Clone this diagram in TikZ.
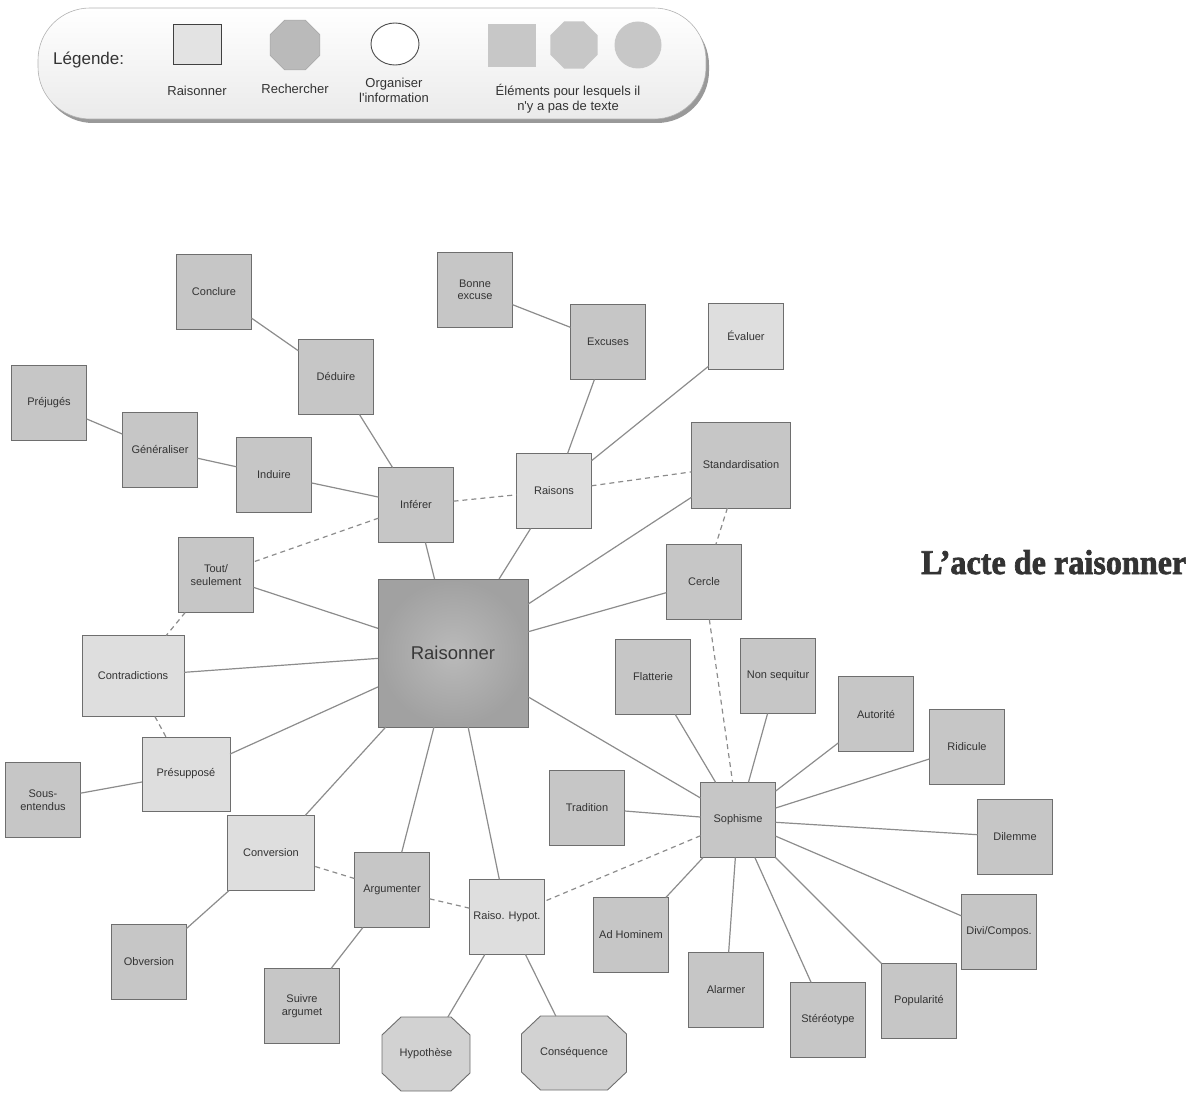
\documentclass[tikz,border=0pt]{standalone}
\usepackage{fontspec}
\newfontfamily\sansf{Liberation Sans}
\newfontfamily\titlef{Liberation Serif}[BoldFeatures={FakeBold=2}]
\usetikzlibrary{shapes.geometric}
\definecolor{txt}{HTML}{333333}
\definecolor{bordc}{HTML}{6E6E6E}
\definecolor{texfill}{HTML}{C6C6C6}
\definecolor{litefill}{HTML}{DEDEDE}
\definecolor{octfill}{HTML}{D2D2D2}
\definecolor{edgec}{HTML}{8C8C8C}
\pgfdeclarelayer{back}
\pgfsetlayers{back,main}
\tikzset{
  base/.style={draw=bordc, line width=0.9pt, text=txt, font=\sansf\fontsize{11}{12.5}\selectfont, align=center, inner sep=1pt, outer sep=0pt},
  texbox/.style={base, rectangle, fill=texfill, minimum width=75pt, minimum height=75pt},
  litebox/.style={base, rectangle, fill=litefill, minimum width=75pt, minimum height=75pt},
  octbox/.style={base, rectangle, draw=none, minimum height=74pt},
  octline/.style={draw=bordc, line width=0.9pt, fill=octfill},
  conn/.style={draw=edgec, line width=1.2pt},
  dconn/.style={conn, dash pattern=on 5pt off 4pt},
  legtxt/.style={text=txt, font=\sansf\fontsize{13}{15}\selectfont, align=center, inner sep=0pt},
}
\begin{document}
\begin{tikzpicture}[x=1pt,y=-1pt]
\useasboundingbox (0,0) rectangle (1197,1094);

% ---------- legend ----------
\fill[black!40, rounded corners=52pt] (41,13) rectangle (709,123);
\shade[top color=white, bottom color=black!8, draw=black!30, line width=0.6pt, rounded corners=52pt] (38,8) rectangle (706,119);
\node[legtxt, font=\sansf\fontsize{17}{19}\selectfont, anchor=west] (legtitle) at (53,60) {Légende:};
\node[draw=black!75, line width=0.9pt, fill=black!11, minimum width=48pt, minimum height=40pt, inner sep=0pt] (lsq) at (197,44) {};
\node[draw=black!35, line width=0.6pt, fill=black!27, regular polygon, regular polygon sides=8, minimum size=54pt, inner sep=0pt] (loct) at (295,45) {};
\node[draw=black!70, line width=0.9pt, fill=white, ellipse, minimum width=48pt, minimum height=42pt, inner sep=0pt] (lcirc) at (395,44) {};
\node[fill=black!22, minimum width=48pt, minimum height=43pt, inner sep=0pt] (gsq) at (512,46) {};
\node[fill=black!22, regular polygon, regular polygon sides=8, minimum size=51pt, inner sep=0pt] (goct) at (574,45) {};
\node[fill=black!22, circle, minimum size=47pt, inner sep=0pt] (gcirc) at (638,45) {};
\node[legtxt] (lt1) at (197,91) {Raisonner};
\node[legtxt] (lt2) at (295,89) {Rechercher};
\node[legtxt] (lt3) at (394,90) {Organiser\\l'information};
\node[legtxt] (lt4) at (568,99) {Éléments pour lesquels il\\n'y a pas de texte};

% ---------- title ----------
\node[anchor=base west, inner sep=0pt, text=black!80] (title) at (921,574) {\resizebox{265pt}{24pt}{\titlef\bfseries L’acte de raisonner}};

% ---------- nodes ----------
\node[base, rectangle, minimum width=150pt, minimum height=148pt, shading=radial, inner color=black!27, outer color=black!37, font=\sansf\fontsize{18.5}{20}\selectfont, text=black!78] (R) at (453,653) {Raisonner};

\node[texbox] (concl) at (214,292) {Conclure};
\node[texbox] (ded) at (336,377) {Déduire};
\node[texbox] (prej) at (49,403) {Préjugés};
\node[texbox] (gen) at (160,450) {Généraliser};
\node[texbox] (ind) at (274,475) {Induire};
\node[texbox] (inf) at (416,505) {Inférer};
\node[texbox] (bonne) at (475,290) {Bonne\\excuse};
\node[texbox] (exc) at (608,342) {Excuses};
\node[litebox, minimum height=66pt] (eval) at (746,336) {Évaluer};
\node[texbox, minimum width=99pt, minimum height=86pt] (std) at (741,465) {Standardisation};
\node[litebox] (rais) at (554,491) {Raisons};
\node[texbox] (tout) at (216,575) {Tout/\\seulement};
\node[litebox, minimum width=102pt, minimum height=81pt] (contr) at (133,676) {Contradictions};
\node[litebox, minimum width=88pt, minimum height=74pt] (pres) at (186,774) {Présupposé};
\node[texbox] (sous) at (43,800) {Sous-\\entendus};
\node[litebox, minimum width=87pt] (conv) at (271,853) {Conversion};
\node[texbox] (arg) at (392,890) {Argumenter};
\node[litebox] (rh) at (507,917) {Raiso. Hypot.};
\node[texbox] (obv) at (149,962) {Obversion};
\node[texbox] (suiv) at (302,1006) {Suivre\\argumet};
\node[octbox, minimum width=88pt] (hypo) at (426,1054) {Hypothèse};
\node[octbox, minimum width=105pt] (cons) at (574,1053) {Conséquence};

\node[texbox] (cerc) at (704,582) {Cercle};
\node[texbox] (flat) at (653,677) {Flatterie};
\node[texbox] (nonseq) at (778,676) {Non sequitur};
\node[texbox] (aut) at (876,714) {Autorité};
\node[texbox] (rid) at (967,747) {Ridicule};
\node[texbox] (trad) at (587,808) {Tradition};
\node[texbox] (soph) at (738,820) {Sophisme};
\node[texbox] (dil) at (1015,837) {Dilemme};
\node[texbox] (adh) at (631,935) {Ad Hominem};
\node[texbox] (alarm) at (726,990) {Alarmer};
\node[texbox] (stereo) at (828,1020) {Stéréotype};
\node[texbox] (popu) at (919,1001) {Popularité};
\node[texbox] (divi) at (999,932) {Divi/Compos.};

\begin{pgfonlayer}{back}
% octagon outlines
\foreach \n in {hypo,cons}{
  \draw[octline] ([xshift=19pt]\n.north west) -- ([xshift=-19pt]\n.north east)
    -- ([yshift=-18pt]\n.north east) -- ([yshift=18pt]\n.south east)
    -- ([xshift=-19pt]\n.south east) -- ([xshift=19pt]\n.south west)
    -- ([yshift=18pt]\n.south west) -- ([yshift=-18pt]\n.north west) -- cycle;
}
\end{pgfonlayer}

% ---------- connectors ----------
\draw[conn] (concl) -- (ded);
\draw[conn] (ded) -- (inf);
\draw[conn] (prej) -- (gen);
\draw[conn] (gen) -- (ind);
\draw[conn] (ind) -- (inf);
\draw[conn] (bonne) -- (exc);
\draw[conn] (exc) -- (rais);
\draw[conn] (eval) -- (rais);
\draw[conn] (inf) -- (R);
\draw[conn] (rais) -- (R);
\draw[conn] (std) -- (R);
\draw[conn] (cerc) -- (R);
\draw[conn] (tout) -- (R);
\draw[conn] (contr) -- (R);
\draw[conn] (pres) -- (R);
\draw[conn] (sous) -- (pres);
\draw[conn] (conv) -- (R);
\draw[conn] (arg) -- (R);
\draw[conn] (rh) -- (R);
\draw[conn] (soph) -- (R);
\draw[conn] (conv) -- (obv);
\draw[conn] (arg) -- (suiv);
\draw[conn] (rh) -- (hypo);
\draw[conn] (rh) -- (cons);
\foreach \n in {flat,nonseq,aut,rid,dil,divi,popu,stereo,alarm,adh,trad}{
  \draw[conn] (soph) -- (\n);
}
\draw[dconn] (inf) -- (tout);
\draw[dconn] (inf) -- (rais);
\draw[dconn] (rais) -- (std);
\draw[dconn] (std) -- (cerc);
\draw[dconn] (cerc) -- (soph);
\draw[dconn] (soph) -- (rh);
\draw[dconn] (rh) -- (arg);
\draw[dconn] (arg) -- (conv);
\draw[dconn] (tout) -- (contr);
\draw[dconn] (contr) -- (pres);
\end{tikzpicture}
\end{document}
